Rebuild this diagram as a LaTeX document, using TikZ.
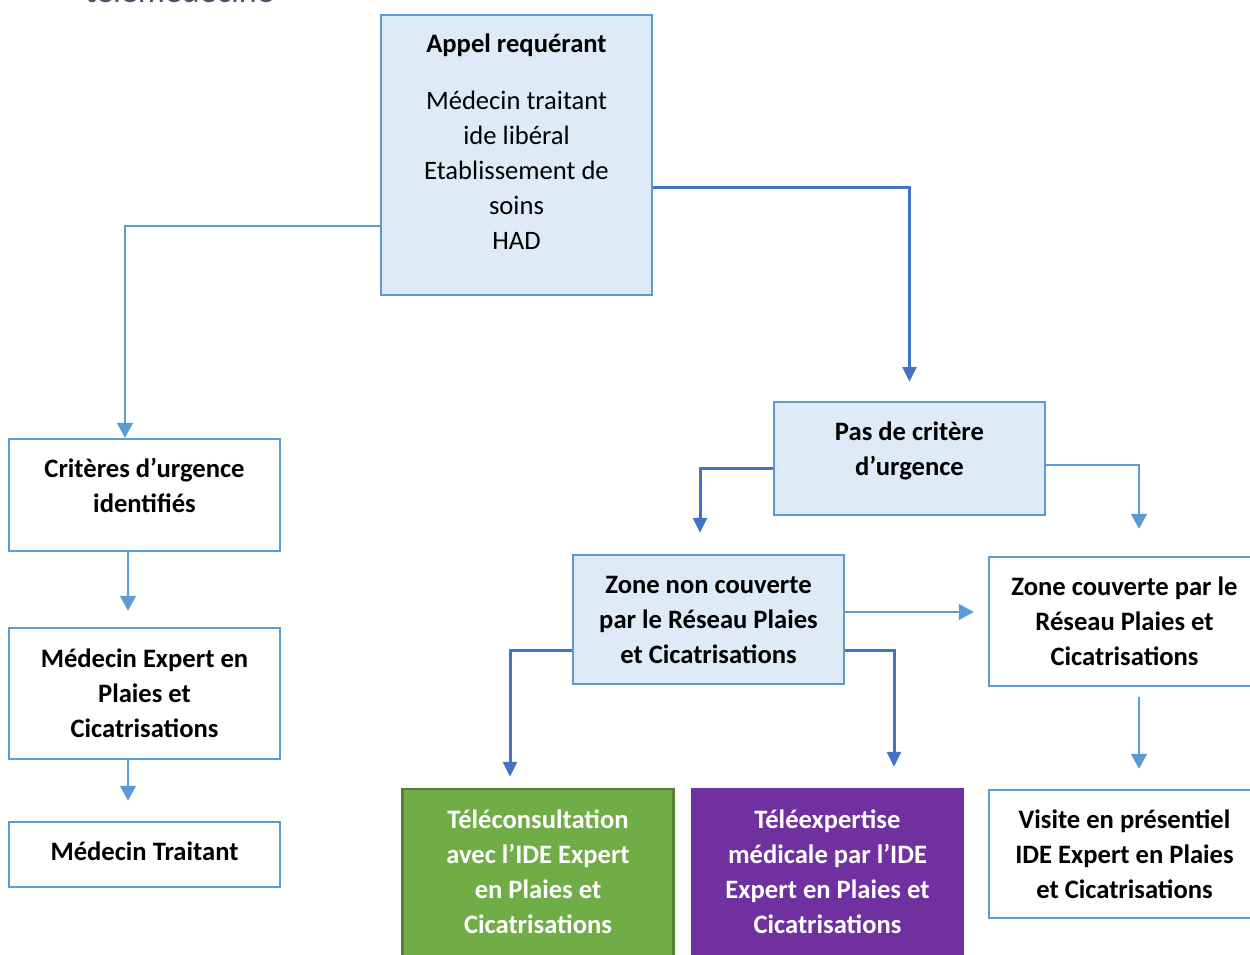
\documentclass[tikz,border=0pt]{standalone}
\usepackage{fontspec}
\setmainfont{Carlito}
\usetikzlibrary{arrows.meta, positioning}

\definecolor{boxline}{HTML}{5B9BD5}
\definecolor{boxfill}{HTML}{DEEBF7}
\definecolor{darkarrow}{HTML}{4472C4}
\definecolor{teleGreen}{HTML}{70AD47}
\definecolor{teleGreenLine}{HTML}{538135}
\definecolor{telePurple}{HTML}{7030A0}
\definecolor{titleSlate}{HTML}{44546A}

% extra depth under the last line, lifts the text in its box
\newcommand{\lift}[1]{\rule[-#1]{0pt}{0pt}}

\begin{document}
\begin{tikzpicture}[
    x=1pt, y=1pt,
    every node/.style={align=center, minimum width=271pt, inner sep=4pt,
        font=\fontsize{26.6}{35}\selectfont\bfseries},
    bluebox/.style={rectangle, draw=boxline, line width=2.5pt, fill=boxfill},
    whitebox/.style={rectangle, draw=boxline, line width=2.5pt, fill=white},
    greenbox/.style={rectangle, draw=teleGreenLine, line width=2.5pt, fill=teleGreen, text=white},
    purplebox/.style={rectangle, draw=telePurple, line width=2.5pt, fill=telePurple, text=white},
    thinarrow/.style={draw=boxline, line width=1.5pt, -{Triangle[width=16pt,length=15pt]}},
    thickarrow/.style={draw=darkarrow, line width=3pt, -{Triangle[width=14pt,length=15pt]}}
]
    \useasboundingbox (0,0) rectangle (1250,-954);
    \clip (0,0) rectangle (1250,-954);

    % Title, cut at the top edge
    \node[anchor=base west, minimum width=0pt, inner sep=0pt, text=titleSlate,
        font=\fontsize{34}{40}\selectfont] (title) at (85,-2) {télémédecine};

    % Caller
    \node[bluebox, minimum height=280pt] (appel) at (516.5,-155)
        {Appel requérant\\[22pt]\mdseries Médecin traitant\\\mdseries ide libéral\\
         \mdseries Etablissement de\\\mdseries soins\\\mdseries HAD\lift{27pt}};

    % Urgent branch
    \node[whitebox, minimum height=112pt] (crit) at (144.5,-495)
        {Critères d’urgence\\identifiés\lift{19pt}};
    \node[whitebox, minimum height=131pt] (medexp) at (144.5,-693.5)
        {Médecin Expert en\\Plaies et\\Cicatrisations};
    \node[whitebox, minimum height=65pt] (medtrt) at (144.5,-854.5)
        {Médecin Traitant\lift{7pt}};

    % Non urgent branch
    \node[bluebox, minimum height=113pt] (pas) at (909.5,-458.5)
        {Pas de critère\\d’urgence\lift{20pt}};
    \node[bluebox, minimum height=129pt] (znc) at (708.5,-619.5)
        {Zone non couverte\\par le Réseau Plaies\\et Cicatrisations};
    \node[whitebox, minimum height=129pt] (zc) at (1124.5,-621.5)
        {Zone couverte par le\\Réseau Plaies et\\Cicatrisations};

    % Outcomes
    \node[greenbox, minimum height=172pt] (telec) at (538,-875)
        {Téléconsultation\\avec l’IDE Expert\\en Plaies et\\Cicatrisations\lift{7pt}};
    \node[purplebox, minimum height=172pt] (telex) at (827.5,-875)
        {Téléexpertise\\médicale par l’IDE\\Expert en Plaies et\\Cicatrisations\lift{7pt}};
    \node[whitebox, minimum height=128pt] (visite) at (1124.5,-854)
        {Visite en présentiel\\IDE Expert en Plaies\\et Cicatrisations};

    % Arrows
    \draw[thinarrow] ([yshift=-71pt]appel.west) -| ([xshift=-19.5pt]crit.north);
    \draw[thickarrow, shorten >=19pt] ([yshift=-32pt]appel.east) -| (pas.north);
    \draw[thinarrow, shorten >=16pt] ([xshift=-16.5pt]crit.south) -- ([xshift=-16.5pt]medexp.north);
    \draw[thinarrow, shorten >=20pt] ([xshift=-16.5pt]medexp.south) -- ([xshift=-16.5pt]medtrt.north);
    \draw[thickarrow, shorten >=21pt] ([yshift=-9.5pt]pas.west) -| ([xshift=-8.5pt]znc.north);
    \draw[thinarrow, shorten >=27pt] ([yshift=-6.5pt]pas.east) -| ([xshift=14.5pt]zc.north);
    \draw[thinarrow, shorten >=14pt] ([yshift=7.5pt]znc.east) -- ([yshift=7.5pt]znc.east -| zc.west);
    \draw[thickarrow, shorten >=11pt] ([yshift=-30.5pt]znc.west) -| ([xshift=-28pt]telec.north);
    \draw[thickarrow, shorten >=21pt] ([yshift=-30.5pt]znc.east) -| ([xshift=66.5pt]telex.north);
    \draw[thinarrow, shorten <=10pt, shorten >=20pt] ([xshift=14.5pt]zc.south) -- ([xshift=14.5pt]visite.north);

\end{tikzpicture}
\end{document}
